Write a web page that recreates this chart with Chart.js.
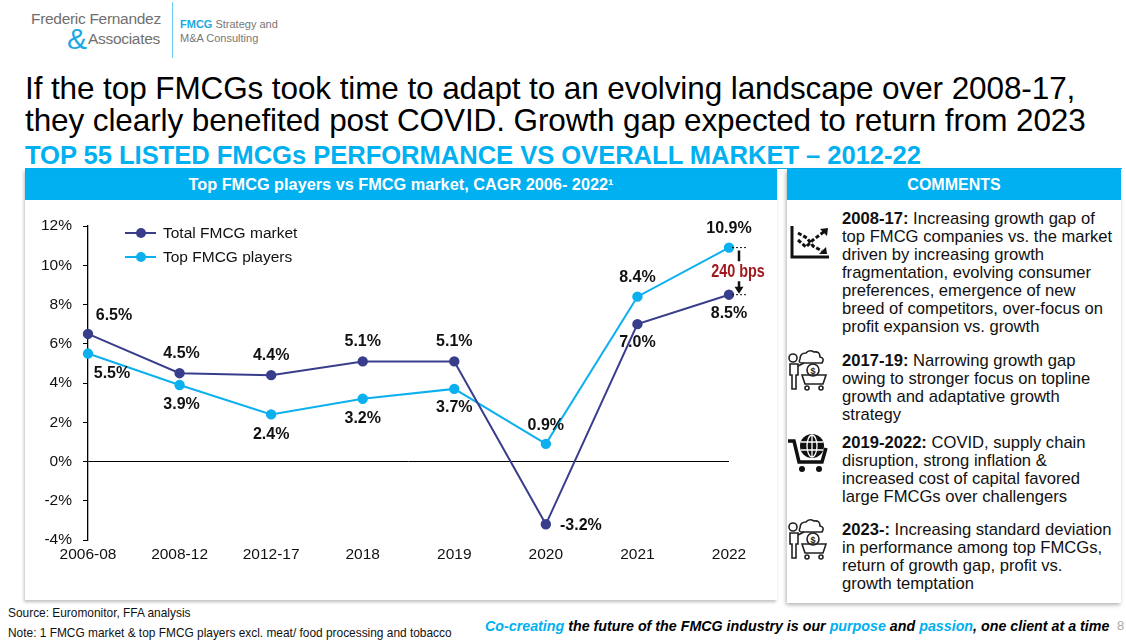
<!DOCTYPE html>
<html>
<head>
<meta charset="utf-8">
<script src="https://cdn.jsdelivr.net/npm/chart.js@4.4.0/dist/chart.umd.min.js"></script>
<style>
  html,body{margin:0;padding:0;background:#fff;}
  body{width:1126px;height:643px;position:relative;overflow:hidden;font-family:"Liberation Sans",Arial,sans-serif;color:#000;}
  .abs{position:absolute;white-space:nowrap;}
  #logo1{left:31px;top:10px;font-size:15.5px;color:#707070;letter-spacing:-0.3px;}
  #logo2{left:88px;top:30px;font-size:15.5px;color:#707070;letter-spacing:-0.3px;}
  #amp{left:67px;top:22px;font-size:30px;color:#1aa9e1;font-weight:300;}
  #logoLine{left:172px;top:2px;width:1px;height:56px;background:#6ccbf0;}
  #logo3{left:180px;top:17px;font-size:11px;color:#777;line-height:14px;}
  #logo3 b{color:#1aa9e1;}
  #title{left:25px;top:72px;font-size:31.5px;line-height:32px;color:#000;letter-spacing:-0.1px;}
  #sub{left:25px;top:141px;font-size:25.6px;font-weight:bold;color:#00b0f0;letter-spacing:-0.05px;line-height:28px;}
  #subLine{left:25px;top:168px;width:1097px;height:1px;background:#00b0f0;}
  #chartBox{left:25px;top:169px;width:752px;height:431px;background:#fff;box-shadow:-1px 2px 3px rgba(0,0,0,0.25);}
  #chartHead{left:25px;top:169px;width:752px;height:31px;background:#00b0f0;color:#fff;font-weight:bold;font-size:16.3px;text-align:center;line-height:31px;}
  #chartWrap{left:25px;top:200px;width:752px;height:400px;}
  #comBox{left:787px;top:169px;width:334px;height:434px;background:#fff;box-shadow:-1px 2px 4px rgba(0,0,0,0.3);}
  #comHead{left:787px;top:169px;width:334px;height:31px;background:#00b0f0;color:#fff;font-weight:bold;font-size:16px;text-align:center;line-height:31px;}
  .item{position:absolute;left:842px;font-size:16.6px;line-height:18px;color:#111;white-space:nowrap;}
  .icon{position:absolute;}
  #src{left:8px;top:605px;font-size:13px;color:#111;transform:scaleX(0.915);transform-origin:left top;}
  #note{left:8px;top:625px;font-size:13px;color:#111;transform:scaleX(0.915);transform-origin:left top;}
  #tag{left:485px;top:617px;font-size:15.5px;font-weight:bold;font-style:italic;color:#000;transform:scaleX(0.92);transform-origin:left top;}
  #tag span{color:#00b0f0;}
  #pg{left:1117px;top:618px;font-size:13px;color:#aaa;}
</style>
</head>
<body>
<div class="abs" id="logo1">Frederic Fernandez</div>
<div class="abs" id="amp">&amp;</div>
<div class="abs" id="logo2">Associates</div>
<div class="abs" id="logoLine"></div>
<div class="abs" id="logo3"><b>FMCG</b> Strategy and<br>M&amp;A Consulting</div>

<div class="abs" id="title">If the top FMCGs took time to adapt to an evolving landscape over 2008-17,<br>they clearly benefited post COVID. Growth gap expected to return from 2023</div>
<div class="abs" id="sub">TOP 55 LISTED FMCGs PERFORMANCE VS OVERALL MARKET – 2012-22</div>
<div class="abs" id="subLine"></div>

<div class="abs" id="chartBox"></div>
<div class="abs" id="chartHead">Top FMCG players vs FMCG market, CAGR 2006- 2022¹</div>
<div class="abs" id="chartWrap"><canvas id="c"></canvas></div>

<div class="abs" id="comBox"></div>
<div class="abs" id="comHead">COMMENTS</div>

<svg class="icon" style="left:789px;top:224px" width="44" height="36" viewBox="0 0 44 36">
  <path d="M3 2 V33 H40" fill="none" stroke="#111" stroke-width="3"/>
  <path d="M9 16 L17 23 L24 16 L36 7" fill="none" stroke="#111" stroke-width="3" stroke-dasharray="4 2"/>
  <path d="M31 5 L39 4 L38 12 Z" fill="#111"/>
  <path d="M9 9 L18 14 L24 22 L33 27" fill="none" stroke="#111" stroke-width="3" stroke-dasharray="4 2"/>
  <path d="M30 30 L38 30 L37 23 Z" fill="#111"/>
</svg>

<div class="item" style="top:210px"><b>2008-17:</b> Increasing growth gap of<br>top FMCG companies vs. the market<br>driven by increasing growth<br>fragmentation, evolving consumer<br>preferences, emergence of new<br>breed of competitors, over-focus on<br>profit expansion vs. growth</div>

<svg class="icon" style="left:786px;top:349px" width="44" height="42" viewBox="0 0 44 42">
  <g fill="none" stroke="#222" stroke-width="1.6">
    <circle cx="7" cy="9" r="4"/>
    <path d="M4 15 H12 V26 H10 V40 H6 V26 H4 Z"/>
    <path d="M14 10 Q14 4 20 4 Q23 0 28 3 Q34 2 34 8 Q39 9 36 14 H16 Q12 14 14 10 Z"/>
    <circle cx="27" cy="21" r="6"/>
    <path d="M16 26 H40 L37 35 H19 Z"/>
    <circle cx="21" cy="39" r="2"/><circle cx="35" cy="39" r="2"/>
    <path d="M12 17 L18 14"/>
  </g>
  <text x="27" y="25" font-size="9" font-family="Liberation Sans" text-anchor="middle" fill="#222" font-weight="bold">$</text>
</svg>

<div class="item" style="top:352px"><b>2017-19:</b> Narrowing growth gap<br>owing to stronger focus on topline<br>growth and adaptative growth<br>strategy</div>

<svg class="icon" style="left:786px;top:432px" width="44" height="42" viewBox="0 0 44 42">
  <path d="M2 9 H8 L13 30 H36 L40 16" fill="none" stroke="#111" stroke-width="3.5"/>
  <circle cx="16" cy="37" r="3" fill="#111"/><circle cx="33" cy="37" r="3" fill="#111"/>
  <circle cx="26" cy="14" r="12" fill="#111"/>
  <g fill="none" stroke="#fff" stroke-width="1.3">
    <ellipse cx="26" cy="14" rx="5" ry="11"/>
    <path d="M15 10 H37 M15 18 H37 M26 3 V25"/>
  </g>
</svg>

<div class="item" style="top:434px"><b>2019-2022:</b> COVID, supply chain<br>disruption, strong inflation &amp;<br>increased cost of capital favored<br>large FMCGs over challengers</div>

<svg class="icon" style="left:786px;top:518px" width="44" height="42" viewBox="0 0 44 42">
  <g fill="none" stroke="#222" stroke-width="1.6">
    <circle cx="7" cy="9" r="4"/>
    <path d="M4 15 H12 V26 H10 V40 H6 V26 H4 Z"/>
    <path d="M14 10 Q14 4 20 4 Q23 0 28 3 Q34 2 34 8 Q39 9 36 14 H16 Q12 14 14 10 Z"/>
    <circle cx="27" cy="21" r="6"/>
    <path d="M16 26 H40 L37 35 H19 Z"/>
    <circle cx="21" cy="39" r="2"/><circle cx="35" cy="39" r="2"/>
    <path d="M12 17 L18 14"/>
  </g>
  <text x="27" y="25" font-size="9" font-family="Liberation Sans" text-anchor="middle" fill="#222" font-weight="bold">$</text>
</svg>

<div class="item" style="top:521px"><b>2023-:</b> Increasing standard deviation<br>in performance among top FMCGs,<br>return of growth gap, profit vs.<br>growth temptation</div>

<div class="abs" id="src">Source: Euromonitor, FFA analysis</div>
<div class="abs" id="note">Note: 1 FMCG market &amp; top FMCG players excl. meat/ food processing and tobacco</div>
<div class="abs" id="tag"><span>Co-creating</span> the future of the FMCG industry is our <span>purpose</span> and <span>passion</span>, one client at a time</div>
<div class="abs" id="pg">8</div>

<script>
// ---- data ----
const categories = ["2006-08", "2008-12", "2012-17", "2018", "2019", "2020", "2021", "2022"];
const totalMarket = [6.5, 4.5, 4.4, 5.1, 5.1, -3.2, 7.0, 8.5];
const topPlayers  = [5.5, 3.9, 2.4, 3.2, 3.7, 0.9, 8.4, 10.9];
const seriesNames = ["Total FMCG market", "Top FMCG players"];
const yTicks = [-4, -2, 0, 2, 4, 6, 8, 10, 12];
const gapLabel = "240 bps";

// ---- styles ----
const DARK = "#383e8c";
const LIGHT = "#0db0ee";
// label offsets (dx, dy) per point, relative to the point
const labelOffsets = [
  [[26,-18],[2,-20],[0,-20],[0,-20],[0,-20],[35,1],[0,18],[0,19]],
  [[24,20],[2,20],[0,20],[0,20],[0,19],[0,-18],[0,-19],[0,-19]]
];

const labelPlugin = {
  id: 'labels',
  afterDatasetsDraw(chart) {
    const ctx = chart.ctx;
    ctx.save();
    ctx.font = "bold 16px 'Liberation Sans', Arial";
    ctx.fillStyle = "#111";
    ctx.textAlign = "center";
    ctx.textBaseline = "middle";
    chart.data.datasets.forEach((ds, di) => {
      const meta = chart.getDatasetMeta(di);
      meta.data.forEach((pt, i) => {
        const o = labelOffsets[di][i];
        ctx.fillText(ds.data[i].toFixed(1) + "%", pt.x + o[0], pt.y + o[1]);
      });
    });
    // legend
    const leg = [[DARK, seriesNames[0], 33], [LIGHT, seriesNames[1], 57]];
    ctx.font = "15.5px 'Liberation Sans', Arial";
    ctx.textAlign = "left";
    leg.forEach(l => {
      ctx.strokeStyle = l[0]; ctx.fillStyle = l[0]; ctx.lineWidth = 2;
      ctx.beginPath(); ctx.moveTo(100, l[2]); ctx.lineTo(131, l[2]); ctx.stroke();
      ctx.beginPath(); ctx.arc(116, l[2], 5, 0, Math.PI*2); ctx.fill();
      ctx.fillStyle = "#111";
      ctx.fillText(l[1], 138, l[2] + 1);
    });
    // gap annotation
    const ys = chart.scales.y, xs = chart.scales.x;
    const last = categories.length - 1;
    const xL = xs.getPixelForValue(last);
    const yTop = ys.getPixelForValue(topPlayers[last]);
    const yBot = ys.getPixelForValue(totalMarket[last]);
    ctx.strokeStyle = "#111"; ctx.lineWidth = 1; ctx.setLineDash([2,2]);
    ctx.beginPath();
    ctx.moveTo(xL + 3, yTop); ctx.lineTo(xL + 17, yTop);
    ctx.moveTo(xL + 3, yBot); ctx.lineTo(xL + 17, yBot);
    ctx.stroke();
    ctx.setLineDash([]);
    const ax = xL + 10;
    const mid = (yTop + yBot) / 2;
    ctx.lineWidth = 2.5;
    ctx.beginPath();
    ctx.moveTo(ax, yTop + 3); ctx.lineTo(ax, mid - 10);
    ctx.moveTo(ax, mid + 10); ctx.lineTo(ax, yBot - 6);
    ctx.stroke();
    ctx.fillStyle = "#111";
    ctx.beginPath();
    ctx.moveTo(ax - 4.5, yBot - 8); ctx.lineTo(ax + 4.5, yBot - 8); ctx.lineTo(ax, yBot - 1); ctx.closePath(); ctx.fill();
    ctx.fillStyle = "#a01a1f";
    ctx.save();
    ctx.translate(ax - 1, mid + 1);
    ctx.scale(0.9, 1.15);
    ctx.font = "bold 16px 'Liberation Sans', Arial";
    ctx.textAlign = "center";
    ctx.fillText(gapLabel, 0, 0);
    ctx.restore();
    ctx.restore();
  }
};

new Chart(document.getElementById('c'), {
  type: 'line',
  data: {
    labels: categories,
    datasets: [
      { label: seriesNames[0], data: totalMarket, borderColor: DARK, backgroundColor: DARK,
        borderWidth: 2, pointRadius: 4.2, pointHoverRadius: 4.2, tension: 0 },
      { label: seriesNames[1], data: topPlayers, borderColor: LIGHT, backgroundColor: LIGHT,
        borderWidth: 2, pointRadius: 4.2, pointHoverRadius: 4.2, tension: 0 }
    ]
  },
  options: {
    responsive: true,
    maintainAspectRatio: false,
    animation: false,
    layout: { padding: { top: 26, right: 48, left: 0, bottom: 0 } },
    plugins: { legend: { display: false }, tooltip: { enabled: false } },
    scales: {
      x: {
        type: 'category',
        offset: false,
        grid: { display: false, drawTicks: false },
        border: { display: false },
        ticks: { color: "#111", font: { size: 15.5, family: "'Liberation Sans', Arial" }, padding: 5, maxRotation: 0, autoSkip: false },
        afterFit(s) { s.height = 60; }
      },
      y: {
        min: -4, max: 12,
        afterBuildTicks(s) { s.ticks = yTicks.map(v => ({ value: v })); },
        grid: {
          drawOnChartArea: true,
          color: c => (c.tick && c.tick.value === 0) ? '#000' : 'rgba(0,0,0,0)',
          tickColor: '#000', tickLength: 5, lineWidth: 1
        },
        border: { display: true, color: '#000', width: 1.3 },
        ticks: { color: "#111", font: { size: 15.5, family: "'Liberation Sans', Arial" }, padding: 11,
          callback: v => v + "%" },
        afterFit(s) { s.width = 63; }
      }
    }
  },
  plugins: [labelPlugin]
});
</script>
</body>
</html>
